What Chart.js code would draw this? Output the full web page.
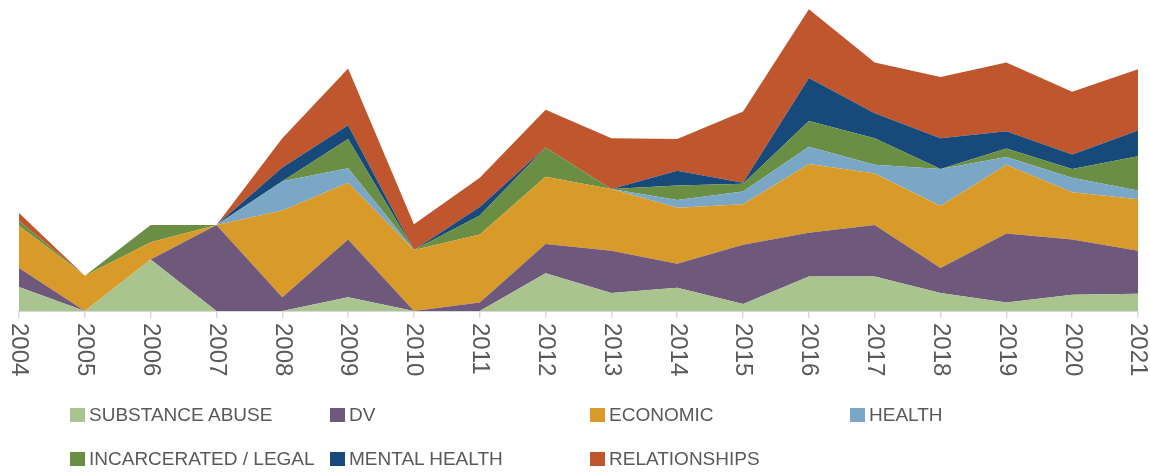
<!DOCTYPE html>
<html>
<head>
<meta charset="utf-8">
<script src="https://cdn.jsdelivr.net/npm/chart.js@4.4.1/dist/chart.umd.min.js"></script>
<style>
  html, body { margin: 0; padding: 0; background: #ffffff; width: 1150px; height: 474px; overflow: hidden; }
  #wrap { position: absolute; left: 0; top: 0; width: 1150px; height: 396px; }
  #legend { position: absolute; left: 70px; top: 393px; display: grid; grid-template-columns: repeat(4, 260px); grid-auto-rows: 44px;
            font-family: "Liberation Sans", Arial, sans-serif; font-size: 19px; color: #595959; }
  .item { display: flex; align-items: center; white-space: nowrap; }
  .box { width: 15px; height: 14px; margin-right: 4px; flex: none; }
</style>
</head>
<body>
<div id="wrap"><canvas id="c"></canvas></div>
<div id="legend"></div>
<script>
const categories = ['2004','2005','2006','2007','2008','2009','2010','2011','2012','2013','2014','2015','2016','2017','2018','2019','2020','2021'];
const substanceAbuse = [2.8, 0, 6, 0, 0, 1.6, 0, 0, 4.4, 2.1, 2.7, 0.8, 4.0, 4.0, 2.1, 1.0, 1.9, 2.0];
const dv             = [2.2, 0, 0, 10, 1.6, 6.7, 0, 1.0, 3.4, 4.9, 2.8, 6.9, 5.1, 6.0, 2.9, 8.0, 6.4, 5.0];
const economic       = [4.9, 4.1, 2, 0, 10.1, 6.6, 7.1, 7.9, 7.8, 7.2, 6.5, 4.7, 8.0, 6.0, 7.2, 8.0, 5.5, 6.0];
const health         = [0, 0, 0, 0, 3.4, 1.7, 0, 0, 0, 0, 0.9, 1.5, 2.0, 1.0, 4.3, 0.9, 1.7, 1.0];
const incarcerated   = [0.6, 0, 2, 0, 0, 3.4, 0, 2.2, 3.4, 0, 1.7, 0.9, 3.0, 3.1, 0, 1.0, 1.0, 4.0];
const mentalHealth   = [0, 0, 0, 0, 1.6, 1.6, 0, 1.0, 0, 0, 1.7, 0.1, 5.0, 2.9, 3.6, 2.0, 1.7, 3.0];
const relationships  = [0.9, 0, 0, 0, 3.4, 6.6, 3.0, 3.4, 4.4, 5.9, 3.7, 8.3, 8.0, 5.9, 7.1, 8.0, 7.3, 7.1];

const seriesNames = ['SUBSTANCE ABUSE','DV','ECONOMIC','HEALTH','INCARCERATED / LEGAL','MENTAL HEALTH','RELATIONSHIPS'];
const seriesData = [substanceAbuse, dv, economic, health, incarcerated, mentalHealth, relationships];
const seriesColors = ['#A9C48F','#6E587B','#D89B2A','#7BA7C7','#6A8E44','#17497A','#BF562E'];

const datasets = seriesNames.map((name, i) => ({
  label: name,
  data: seriesData[i],
  backgroundColor: seriesColors[i],
  borderColor: seriesColors[i],
  borderWidth: 0,
  pointRadius: 0,
  pointHoverRadius: 0,
  tension: 0,
  fill: i === 0 ? 'origin' : '-1'
}));

const rotatedLabels = {
  id: 'rotatedLabels',
  afterDraw(chart) {
    const sc = chart.scales.x;
    const ctx = chart.ctx;
    ctx.save();
    ctx.font = '24px "Liberation Sans", Arial, sans-serif';
    ctx.fillStyle = '#595959';
    ctx.textAlign = 'left';
    ctx.textBaseline = 'middle';
    categories.forEach((lab, i) => {
      const x = sc.getPixelForTick(i);
      const y = sc.top + 12;
      ctx.save();
      ctx.translate(x, y);
      ctx.rotate(Math.PI / 2);
      ctx.fillText(lab, 0, 0);
      ctx.restore();
    });
    ctx.restore();
  }
};

new Chart(document.getElementById('c'), {
  type: 'line',
  data: { labels: categories, datasets },
  options: {
    responsive: true,
    maintainAspectRatio: false,
    animation: false,
    layout: { padding: { left: 19, right: 12, top: 4, bottom: 0 } },
    plugins: { legend: { display: false }, tooltip: { enabled: false } },
    elements: { line: { borderWidth: 0 } },
    scales: {
      x: {
        offset: false,
        ticks: { display: false },
        grid: { display: true, drawOnChartArea: false, drawTicks: true, tickLength: 7, color: '#d9d9d9', lineWidth: 1.5 },
        border: { display: true, color: '#d9d9d9', width: 2 },
        afterFit(scale) { scale.height = 85; }
      },
      y: {
        display: false,
        stacked: true,
        min: 0,
        max: 35.7
      }
    }
  },
  plugins: [rotatedLabels]
});

const legend = document.getElementById('legend');
seriesNames.forEach((name, i) => {
  const it = document.createElement('div');
  it.className = 'item';
  const b = document.createElement('span');
  b.className = 'box';
  b.style.background = seriesColors[i];
  const t = document.createElement('span');
  t.textContent = name;
  it.appendChild(b);
  it.appendChild(t);
  legend.appendChild(it);
});
</script>
</body>
</html>
